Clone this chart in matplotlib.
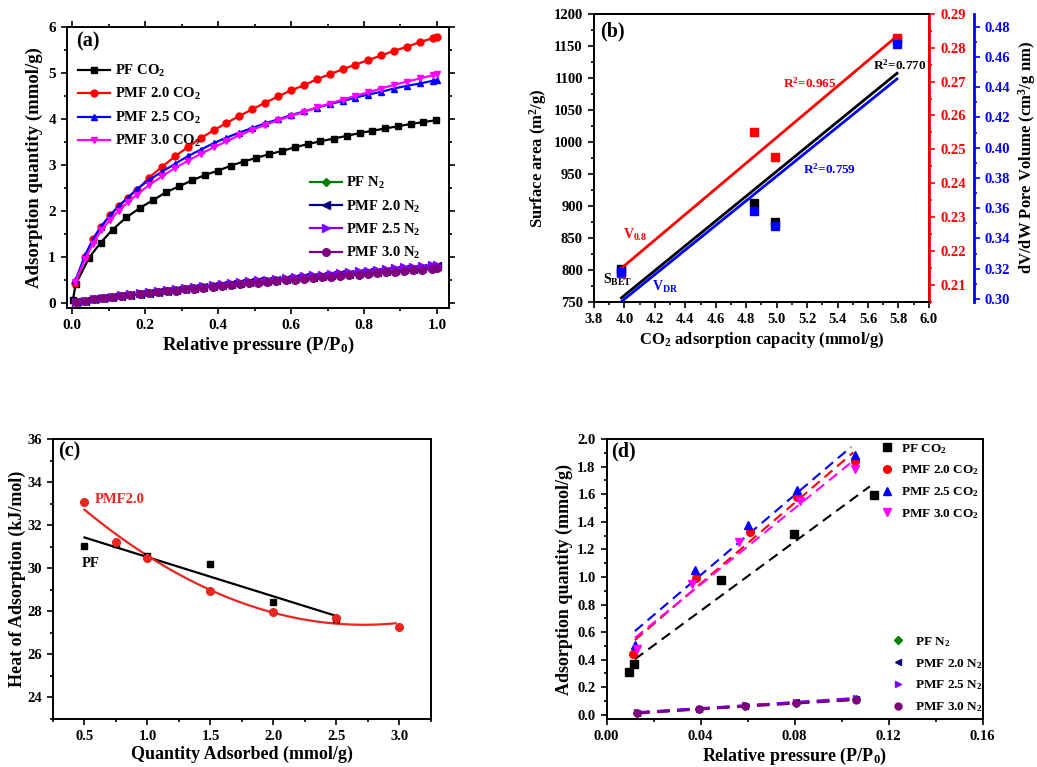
import numpy as np
import matplotlib
matplotlib.use('Agg')
import matplotlib.pyplot as plt
from matplotlib.ticker import MultipleLocator

plt.rcParams['font.family'] = ['Liberation Serif', 'DejaVu Serif']
plt.rcParams['font.weight'] = 'bold'
plt.rcParams['axes.labelweight'] = 'bold'
plt.rcParams['mathtext.fontset'] = 'custom'
plt.rcParams['mathtext.rm'] = 'Liberation Serif:bold'
plt.rcParams['mathtext.it'] = 'Liberation Serif:bold:italic'
plt.rcParams['mathtext.bf'] = 'Liberation Serif:bold'
plt.rcParams['axes.linewidth'] = 1.4

# ---------------- Panel (a) data ----------------
p_pf_co2 = [0.002, 0.010, 0.047, 0.078, 0.111, 0.149, 0.186, 0.222, 0.257, 0.293, 0.329, 0.365,
            0.400, 0.435, 0.470, 0.505, 0.540, 0.576, 0.610, 0.646, 0.680, 0.717, 0.753, 0.788,
            0.823, 0.858, 0.894, 0.930, 0.963, 0.998]
q_pf_co2 = [0.05, 0.40, 0.98, 1.30, 1.59, 1.855, 2.06, 2.23, 2.40, 2.53, 2.66, 2.78,
            2.87, 2.98, 3.07, 3.15, 3.23, 3.30, 3.38, 3.45, 3.51, 3.57, 3.63, 3.69,
            3.74, 3.79, 3.84, 3.89, 3.93, 3.97]
p_pmf_co2 = [0.009, 0.036, 0.057, 0.079, 0.104, 0.128, 0.152, 0.178, 0.211, 0.247, 0.282, 0.318,
             0.353, 0.388, 0.423, 0.458, 0.494, 0.529, 0.565, 0.600, 0.635, 0.670, 0.706, 0.742,
             0.776, 0.812, 0.847, 0.882, 0.918, 0.953, 0.989, 1.000]
q_pmf20_co2 = [0.42, 1.00, 1.38, 1.65, 1.90, 2.10, 2.28, 2.45, 2.72, 2.96, 3.18, 3.39,
               3.58, 3.75, 3.91, 4.06, 4.21, 4.35, 4.49, 4.62, 4.73, 4.86, 4.97, 5.08,
               5.18, 5.28, 5.38, 5.48, 5.57, 5.67, 5.76, 5.79]
q_pmf25_co2 = [0.48, 1.04, 1.37, 1.65, 1.90, 2.10, 2.28, 2.47, 2.67, 2.85, 3.02, 3.19,
               3.33, 3.47, 3.59, 3.70, 3.80, 3.90, 3.99, 4.08, 4.16, 4.24, 4.32, 4.39,
               4.46, 4.53, 4.59, 4.66, 4.72, 4.77, 4.83, 4.85]
q_pmf30_co2 = [0.45, 0.95, 1.28, 1.57, 1.80, 2.00, 2.18, 2.35, 2.56, 2.75, 2.93, 3.09,
               3.24, 3.38, 3.51, 3.64, 3.76, 3.87, 3.97, 4.06, 4.15, 4.25, 4.33, 4.42,
               4.50, 4.58, 4.66, 4.74, 4.81, 4.88, 4.95, 4.98]
p_n2 = [0.010, 0.035, 0.060, 0.085, 0.110, 0.135, 0.160, 0.185, 0.210, 0.235, 0.260, 0.285,
        0.310, 0.335, 0.360, 0.385, 0.410, 0.435, 0.460, 0.485, 0.510, 0.535, 0.560, 0.585,
        0.610, 0.635, 0.660, 0.685, 0.710, 0.735, 0.760, 0.785, 0.810, 0.835, 0.860, 0.885,
        0.910, 0.935, 0.960, 0.985, 1.000]
q_pf_n2 = [0.01, 0.04, 0.07, 0.09, 0.12, 0.145, 0.165, 0.185, 0.205, 0.23, 0.25, 0.27,
           0.29, 0.315, 0.335, 0.355, 0.37, 0.39, 0.41, 0.43, 0.45, 0.465, 0.485, 0.50,
           0.515, 0.535, 0.55, 0.565, 0.58, 0.595, 0.61, 0.625, 0.64, 0.655, 0.675, 0.69,
           0.71, 0.72, 0.735, 0.75, 0.765]
q_pmf20_n2 = [0.01, 0.04, 0.075, 0.095, 0.125, 0.15, 0.17, 0.19, 0.21, 0.235, 0.255, 0.275,
              0.30, 0.325, 0.345, 0.365, 0.38, 0.40, 0.42, 0.44, 0.46, 0.475, 0.495, 0.515,
              0.53, 0.55, 0.565, 0.58, 0.60, 0.615, 0.63, 0.645, 0.66, 0.675, 0.695, 0.71,
              0.73, 0.74, 0.755, 0.77, 0.785]
q_pmf25_n2 = [0.01, 0.04, 0.08, 0.10, 0.13, 0.155, 0.18, 0.20, 0.22, 0.245, 0.27, 0.29,
              0.315, 0.34, 0.36, 0.38, 0.40, 0.42, 0.44, 0.46, 0.48, 0.50, 0.52, 0.54,
              0.555, 0.575, 0.59, 0.61, 0.63, 0.645, 0.66, 0.68, 0.695, 0.71, 0.73, 0.745,
              0.765, 0.78, 0.795, 0.81, 0.825]
q_pmf30_n2 = [0.01, 0.04, 0.07, 0.09, 0.12, 0.14, 0.16, 0.18, 0.20, 0.22, 0.24, 0.26,
              0.285, 0.305, 0.325, 0.345, 0.36, 0.38, 0.40, 0.415, 0.435, 0.45, 0.47, 0.485,
              0.50, 0.52, 0.535, 0.55, 0.565, 0.58, 0.595, 0.61, 0.625, 0.64, 0.655, 0.67,
              0.69, 0.70, 0.715, 0.73, 0.745]

# ---------------- Panel (b) data ----------------
co2_cap = [3.98, 4.85, 4.99, 5.79]
s_bet = [801, 905, 875, 1160]
v_08 = [0.2135, 0.2552, 0.2476, 0.2830]
v_dr = [0.318, 0.3584, 0.3482, 0.4685]

# ---------------- Panel (c) data ----------------
qa_pf = [0.5, 0.75, 1.0, 1.5, 2.0, 2.5]
h_pf = [31.04, 31.12, 30.56, 30.19, 28.44, 27.65]
qa_pmf = [0.5, 0.75, 1.0, 1.5, 2.0, 2.5, 3.0]
h_pmf = [33.06, 31.24, 30.47, 28.95, 27.99, 27.70, 27.28]

# ---------------- Panel (d) data ----------------
d_pf_co2_x = [0.0095, 0.0118, 0.0487, 0.0797, 0.1138]
d_pf_co2_y = [0.312, 0.370, 0.976, 1.312, 1.597]
d_pmf20_co2_x = [0.0111, 0.0380, 0.0610, 0.0811, 0.1058]
d_pmf20_co2_y = [0.442, 0.990, 1.326, 1.577, 1.843]
d_pmf25_co2_x = [0.0122, 0.0374, 0.0600, 0.0809, 0.1055]
d_pmf25_co2_y = [0.510, 1.053, 1.379, 1.633, 1.886]
d_pmf30_co2_x = [0.0128, 0.0363, 0.0563, 0.0823, 0.1055]
d_pmf30_co2_y = [0.478, 0.952, 1.251, 1.548, 1.783]
d_n2_x = [0.0130, 0.0395, 0.0590, 0.0805, 0.1060]
d_pf_n2_y = [0.015, 0.042, 0.064, 0.088, 0.112]
d_pmf20_n2_y = [0.016, 0.044, 0.066, 0.090, 0.116]
d_pmf25_n2_y = [0.018, 0.046, 0.068, 0.092, 0.121]
d_pmf30_n2_y = [0.012, 0.039, 0.061, 0.085, 0.108]

CO2 = r'CO$\mathregular{_2}$'
N2 = r'N$\mathregular{_2}$'

fig = plt.figure(figsize=(10.37, 7.67), dpi=100)

def style_ticks(ax, size=10.5):
    ax.tick_params(which='both', direction='out', labelsize=size, width=1.2)
    ax.tick_params(which='major', length=4.5)
    ax.tick_params(which='minor', length=2.5)
    for lab in ax.get_xticklabels() + ax.get_yticklabels():
        lab.set_fontweight('bold')

# ================= (a) =================
axa = fig.add_axes([0.0646, 0.5984, 0.3684, 0.3664])
ms = 4.5
axa.plot(p_pf_co2, q_pf_co2, '-s', color='black', lw=1.6, ms=ms, label='PF ' + CO2)
axa.plot(p_pmf_co2, q_pmf20_co2, '-o', color='#FF0000', lw=1.6, ms=ms + 0.5, label='PMF 2.0 ' + CO2)
axa.plot(p_pmf_co2, q_pmf25_co2, '-^', color='#0000FF', lw=1.6, ms=ms + 0.5, label='PMF 2.5 ' + CO2)
axa.plot(p_pmf_co2, q_pmf30_co2, '-v', color='#FF00FF', lw=1.6, ms=ms + 0.5, label='PMF 3.0 ' + CO2)
axa.plot(p_n2, q_pf_n2, '-D', color='#008000', lw=1.6, ms=ms, label='PF ' + N2)
axa.plot(p_n2, q_pmf20_n2, '-<', color='#000080', lw=1.6, ms=ms + 1, label='PMF 2.0 ' + N2)
axa.plot(p_n2, q_pmf25_n2, '->', color='#8000FF', lw=1.6, ms=ms + 1, label='PMF 2.5 ' + N2)
axa.plot(p_n2, q_pmf30_n2, '-o', color='#800080', lw=1.6, ms=ms + 1, label='PMF 3.0 ' + N2)
axa.set_xlim(-0.014, 1.033)
axa.set_ylim(-0.12, 6.0)
axa.xaxis.set_major_locator(MultipleLocator(0.2))
axa.xaxis.set_minor_locator(MultipleLocator(0.1))
axa.yaxis.set_major_locator(MultipleLocator(1))
axa.yaxis.set_minor_locator(MultipleLocator(0.5))
axa.tick_params(top=True, right=True, which='both')
style_ticks(axa, 11)
axa.set_xlabel('Relative pressure (P/P$\\mathregular{_0}$)', fontsize=13.5, labelpad=2)
axa.set_ylabel('Adsorption quantity (mmol/g)', fontsize=13.5, labelpad=4)
axa.text(0.024, 0.948, '(a)', transform=axa.transAxes, fontsize=14.5, fontweight='bold', va='center')
h, l = axa.get_legend_handles_labels()
leg1 = axa.legend(h[:4], l[:4], loc='upper left', bbox_to_anchor=(0.029, 0.872), frameon=False,
                  fontsize=10.5, handlelength=2.2, handletextpad=0.3, labelspacing=0.5,
                  borderpad=0, borderaxespad=0)
axa.add_artist(leg1)
axa.legend(h[4:], l[4:], loc='upper left', bbox_to_anchor=(0.636, 0.472), frameon=False,
           fontsize=10.5, handlelength=2.2, handletextpad=0.3, labelspacing=0.48,
           borderpad=0, borderaxespad=0)

# ================= (b) =================
axb = fig.add_axes([0.5728, 0.6063, 0.3230, 0.3755])
axr = axb.twinx()
axbl = axb.twinx()
xb = np.array(co2_cap)
xs = np.linspace(xb.min(), xb.max(), 50)
axb.plot(xs, np.polyval(np.polyfit(xb, s_bet, 1), xs), color='black', lw=2)
axb.plot(xb, s_bet, 's', color='black', ms=5.5)
axr.plot(xs, np.polyval(np.polyfit(xb, v_08, 1), xs), color='#FF0000', lw=2)
axr.plot(xb, v_08, 's', color='#FF0000', ms=5.5)
axbl.plot(xs, np.polyval(np.polyfit(xb, v_dr, 1), xs), color='#0000FF', lw=2)
axbl.plot(xb, v_dr, 's', color='#0000FF', ms=5.5)
axb.set_xlim(3.8, 6.0)
axb.set_ylim(750, 1200)
axr.set_ylim(0.2049, 0.29)
axbl.set_ylim(0.298, 0.4884)
axb.xaxis.set_major_locator(MultipleLocator(0.2))
axb.xaxis.set_minor_locator(MultipleLocator(0.1))
axb.yaxis.set_major_locator(MultipleLocator(50))
axb.yaxis.set_minor_locator(MultipleLocator(25))
axr.yaxis.set_major_locator(MultipleLocator(0.01))
axr.yaxis.set_minor_locator(MultipleLocator(0.005))
axbl.yaxis.set_major_locator(MultipleLocator(0.02))
axbl.yaxis.set_minor_locator(MultipleLocator(0.01))
axr.yaxis.set_major_formatter(matplotlib.ticker.FormatStrFormatter('%.2f'))
axbl.yaxis.set_major_formatter(matplotlib.ticker.FormatStrFormatter('%.2f'))
style_ticks(axb, 10.5)
style_ticks(axr, 10.5)
style_ticks(axbl, 10.5)
axr.spines['right'].set_color('#FF0000')
axr.spines['right'].set_linewidth(2)
axr.tick_params(axis='y', which='both', colors='#FF0000')
axbl.spines['right'].set_position(('axes', 1.134))
axbl.spines['right'].set_color('#0000FF')
axbl.spines['right'].set_linewidth(2)
axbl.tick_params(axis='y', which='both', colors='#0000FF')
for s in ['top', 'left', 'bottom']:
    axbl.spines[s].set_visible(False)
axb.set_xlabel('CO$\\mathregular{_2}$ adsorption capacity (mmol/g)', fontsize=12, labelpad=3)
axb.set_ylabel('Surface area (m$\\mathregular{^2}$/g)', fontsize=12, labelpad=3)
axbl.set_ylabel('dV/dW Pore Volume (cm$\\mathregular{^3}$/g nm)', fontsize=12, labelpad=4)
axb.text(0.018, 0.939, '(b)', transform=axb.transAxes, fontsize=14.5, fontweight='bold', va='center')
axb.text(5.63, 1120, 'R$\\mathregular{^2}$=0.770', color='black', fontsize=9.5, va='center')
axb.text(5.04, 1092, 'R$\\mathregular{^2}$=0.965', color='#FF0000', fontsize=9.5, va='center')
axb.text(5.17, 957, 'R$\\mathregular{^2}$=0.759', color='#0000FF', fontsize=9.5, va='center')
axb.text(3.99, 854, 'V$\\mathregular{_{0.8}}$', color='#FF0000', fontsize=10, va='center')
axb.text(3.857, 784, 'S$\\mathregular{_{BET}}$', color='black', fontsize=10, va='center')
axb.text(4.18, 773, 'V$\\mathregular{_{DR}}$', color='#0000FF', fontsize=10, va='center')

# ================= (c) =================
axc = fig.add_axes([0.0511, 0.0626, 0.3645, 0.3650])
xc = np.array(qa_pf)
xcs = np.linspace(xc.min(), xc.max(), 50)
axc.plot(xcs, np.polyval(np.polyfit(xc, h_pf, 1), xcs), color='black', lw=1.6)
xr = np.array(qa_pmf)
xrs = np.linspace(xr.min(), xr.max() - 0.03, 100)
axc.plot(xrs, np.polyval(np.polyfit(xr, h_pmf, 2), xrs), color='#E8251F', lw=1.6)
axc.plot(qa_pf, h_pf, 's', color='black', ms=5)
axc.plot(qa_pmf, h_pmf, 'o', color='#E8251F', ms=5.5)
axc.set_xlim(0.25, 3.25)
axc.set_ylim(23, 36)
axc.xaxis.set_major_locator(MultipleLocator(0.5))
axc.xaxis.set_minor_locator(MultipleLocator(0.25))
axc.yaxis.set_major_locator(MultipleLocator(2))
axc.yaxis.set_minor_locator(MultipleLocator(1))
style_ticks(axc, 10.5)
axc.set_xlabel('Quantity Adsorbed (mmol/g)', fontsize=13, labelpad=2)
axc.set_ylabel('Heat of Adsorption (kJ/mol)', fontsize=13, labelpad=1)
axc.text(0.013, 0.955, '(c)', transform=axc.transAxes, fontsize=14.5, fontweight='bold', va='center')
axc.text(0.476, 30.2, 'PF', color='black', fontsize=10.5, va='center')
axc.text(0.58, 33.2, 'PMF2.0', color='#E8251F', fontsize=10.5, va='center')

# ================= (d) =================
axd = fig.add_axes([0.5850, 0.0626, 0.3626, 0.3650])
co2_sets = [(d_pf_co2_x, d_pf_co2_y, 'black', 's', 'PF ' + CO2, 0.112),
            (d_pmf20_co2_x, d_pmf20_co2_y, '#FF0000', 'o', 'PMF 2.0 ' + CO2, 0.105),
            (d_pmf25_co2_x, d_pmf25_co2_y, '#0000FF', '^', 'PMF 2.5 ' + CO2, 0.104),
            (d_pmf30_co2_x, d_pmf30_co2_y, '#FF00FF', 'v', 'PMF 3.0 ' + CO2, 0.105)]
co2_handles = []
for x, y, c, m, lab, xe in co2_sets:
    fx = np.linspace(0.012, xe, 50)
    axd.plot(fx, np.polyval(np.polyfit(x, y, 1), fx), '--', color=c, lw=1.5, dashes=(5, 3))
for x, y, c, m, lab, xe in co2_sets:
    hh, = axd.plot(x, y, m, color=c, ms=5.5, label=lab)
    co2_handles.append(hh)
n2_sets = [(d_pf_n2_y, '#008000', 'D', 'PF ' + N2),
           (d_pmf20_n2_y, '#000080', '<', 'PMF 2.0 ' + N2),
           (d_pmf25_n2_y, '#8000FF', '>', 'PMF 2.5 ' + N2),
           (d_pmf30_n2_y, '#800080', 'o', 'PMF 3.0 ' + N2)]
n2_handles = []
fxn = np.linspace(0.013, 0.107, 50)
for y, c, m, lab in n2_sets:
    axd.plot(fxn, np.polyval(np.polyfit(d_n2_x, y, 2), fxn), '--', color=c, lw=1.8, dashes=(5, 3))
for y, c, m, lab in n2_sets:
    hh, = axd.plot(d_n2_x, y, m, color=c, ms=5 if m != 'D' else 4.5, label=lab)
    n2_handles.append(hh)
axd.set_xlim(0, 0.16)
axd.set_ylim(-0.03, 2.0)
axd.xaxis.set_major_locator(MultipleLocator(0.04))
axd.xaxis.set_minor_locator(MultipleLocator(0.02))
axd.yaxis.set_major_locator(MultipleLocator(0.2))
axd.yaxis.set_minor_locator(MultipleLocator(0.1))
axd.xaxis.set_major_formatter(matplotlib.ticker.FormatStrFormatter('%.2f'))
axd.yaxis.set_major_formatter(matplotlib.ticker.FormatStrFormatter('%.1f'))
style_ticks(axd, 10.5)
axd.set_xlabel('Relative pressure (P/P$\\mathregular{_0}$)', fontsize=13, labelpad=2)
axd.set_ylabel('Adsorption quantity (mmol/g)', fontsize=13, labelpad=3)
axd.text(0.013, 0.955, '(d)', transform=axd.transAxes, fontsize=14.5, fontweight='bold', va='center')
legd1 = axd.legend(handles=co2_handles, loc='upper left', bbox_to_anchor=(0.728, 0.99), frameon=False,
                   fontsize=9.5, handlelength=1.0, handletextpad=0.6, labelspacing=0.6,
                   borderpad=0, borderaxespad=0, numpoints=1)
axd.add_artist(legd1)
axd.legend(handles=n2_handles, loc='upper left', bbox_to_anchor=(0.757, 0.30), frameon=False,
           fontsize=9.5, handlelength=1.0, handletextpad=0.8, labelspacing=0.6,
           borderpad=0, borderaxespad=0, numpoints=1)

fig.savefig('out.png', dpi=100)
